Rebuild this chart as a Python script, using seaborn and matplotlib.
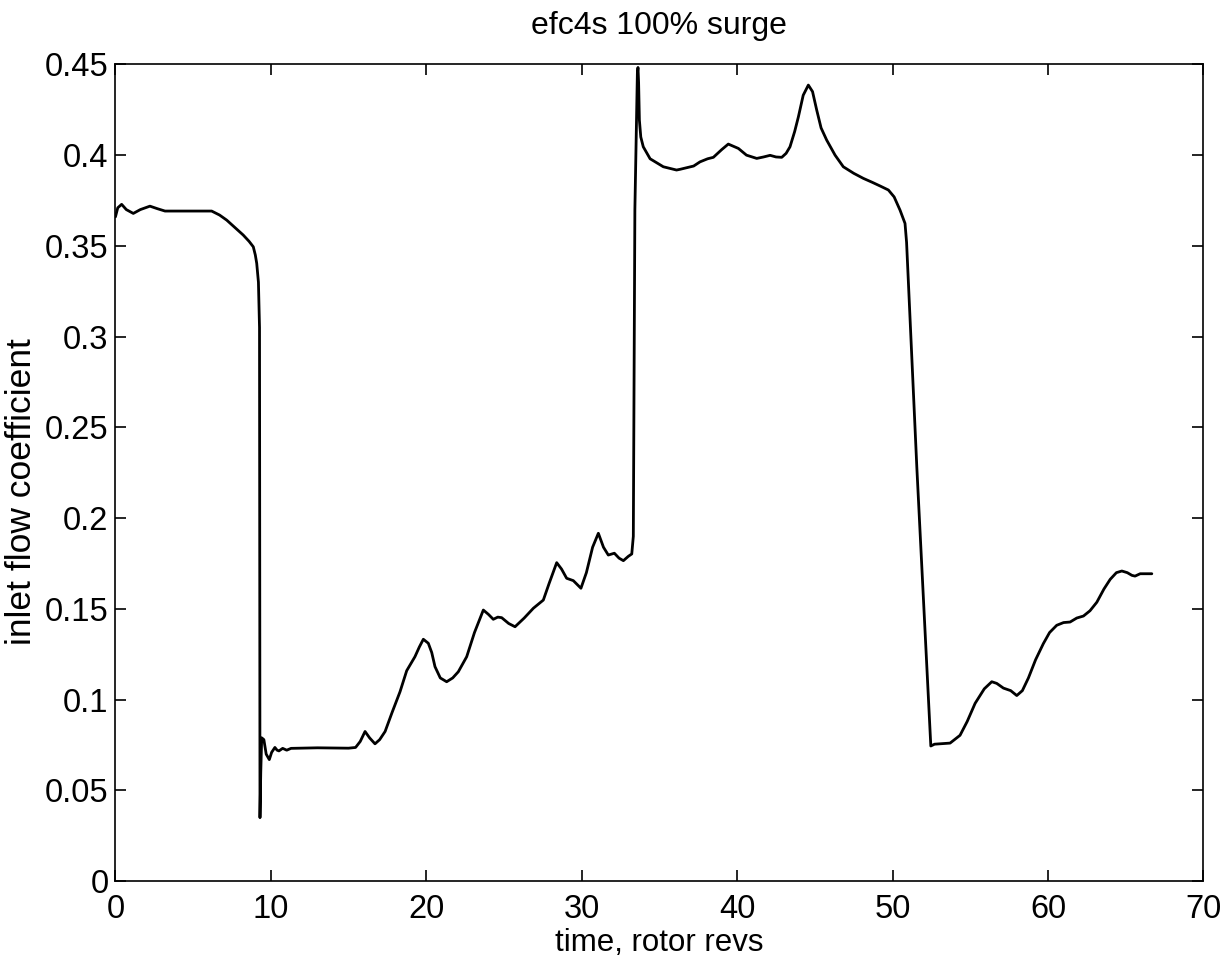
import matplotlib
matplotlib.use("Agg")
import matplotlib.pyplot as plt
import seaborn as sns
import pandas as pd

# Rotor revolutions (time axis)
time_revs = [
    0.00, 0.15, 0.40, 0.70, 1.15, 1.60, 2.22, 2.70, 3.19, 4.50, 6.19, 6.70,
    7.16, 7.70, 8.22, 8.60, 8.87, 9.00, 9.09, 9.20, 9.27, 9.30, 9.35, 9.41,
    9.55, 9.70, 9.90, 10.05, 10.26, 10.40, 10.52, 10.76, 11.02, 11.30, 13.00,
    15.00, 15.45, 15.75, 16.06, 16.35, 16.70, 17.00, 17.35, 17.80, 18.31,
    18.74, 19.27, 19.55, 19.81, 20.13, 20.35, 20.56, 20.90, 21.31, 21.70,
    22.06, 22.60, 23.10, 23.67, 24.00, 24.31, 24.60, 24.85, 25.30, 25.71,
    26.30, 26.89, 27.53, 27.90, 28.39, 28.70, 29.03, 29.46, 29.95, 30.30,
    30.70, 31.07, 31.40, 31.71, 32.10, 32.40, 32.68, 33.00, 33.22, 33.32,
    33.42, 33.58, 33.62, 33.66, 33.71, 33.80, 33.96, 34.40, 35.25, 36.10,
    36.33, 37.20, 37.61, 38.10, 38.47, 39.00, 39.43, 40.08, 40.60, 41.26,
    41.70, 42.12, 42.50, 42.87, 43.15, 43.40, 43.70, 43.94, 44.25, 44.58,
    44.85, 45.12, 45.40, 45.76, 46.30, 46.83, 47.50, 48.12, 48.70, 49.20,
    49.73, 50.10, 50.48, 50.80, 50.90, 51.56, 52.46, 52.70, 53.70, 54.34,
    54.80, 55.31, 55.90, 56.38, 56.70, 57.13, 57.60, 57.99, 58.35, 58.74,
    59.20, 59.70, 60.10, 60.56, 61.00, 61.42, 61.85, 62.28, 62.70, 63.14,
    63.60, 64.00, 64.40, 64.75, 65.10, 65.40, 65.60, 65.93, 66.68,
]

# Inlet flow coefficient
flow_coeff = [
    0.366, 0.371, 0.3729, 0.370, 0.3679, 0.370, 0.3719, 0.3705, 0.3692, 0.3692,
    0.3692, 0.367, 0.3642, 0.360, 0.3560, 0.3525, 0.3495, 0.345, 0.3404, 0.330,
    0.305, 0.035, 0.060, 0.0790, 0.078, 0.070, 0.0670, 0.071, 0.0737, 0.0722,
    0.0718, 0.0732, 0.0722, 0.0732, 0.0735, 0.0733, 0.0737, 0.0770, 0.0825,
    0.079, 0.0757, 0.0780, 0.0825, 0.093, 0.1044, 0.1160, 0.1237, 0.1290,
    0.1333, 0.1311, 0.126, 0.1182, 0.112, 0.1099, 0.112, 0.1154, 0.1237, 0.137,
    0.1494, 0.147, 0.1443, 0.1455, 0.1452, 0.142, 0.1402, 0.145, 0.1504, 0.1549,
    0.164, 0.1755, 0.172, 0.1669, 0.1656, 0.1614, 0.170, 0.184, 0.1917, 0.184,
    0.1797, 0.1807, 0.178, 0.1766, 0.179, 0.1803, 0.19, 0.37, 0.445, 0.4483,
    0.440, 0.4193, 0.410, 0.4046, 0.398, 0.3936, 0.3918, 0.3922, 0.394, 0.3963,
    0.398, 0.3988, 0.403, 0.4061, 0.4037, 0.400, 0.3982, 0.399, 0.3999, 0.399,
    0.3988, 0.401, 0.4046, 0.413, 0.4211, 0.433, 0.4386, 0.435, 0.4248, 0.415,
    0.4083, 0.400, 0.3936, 0.390, 0.3872, 0.385, 0.3830, 0.3808, 0.377, 0.3697,
    0.3624, 0.352, 0.228, 0.0745, 0.0755, 0.0761, 0.0804, 0.088, 0.0980, 0.106,
    0.1099, 0.109, 0.1064, 0.105, 0.1023, 0.105, 0.1120, 0.122, 0.1309, 0.137,
    0.1410, 0.1425, 0.1428, 0.145, 0.1461, 0.149, 0.1537, 0.161, 0.1663, 0.170,
    0.1709, 0.170, 0.1685, 0.1681, 0.1694, 0.1694,
]

x_ticks = [0, 10, 20, 30, 40, 50, 60, 70]
y_ticks = [0, 0.05, 0.1, 0.15, 0.2, 0.25, 0.3, 0.35, 0.4, 0.45]
y_tick_labels = ["0", "0.05", "0.1", "0.15", "0.2", "0.25", "0.3", "0.35", "0.4", "0.45"]

sns.set_style("ticks")
plt.rcParams["font.family"] = ["Liberation Sans", "DejaVu Sans"]
plt.rcParams["text.color"] = "black"
plt.rcParams["axes.labelcolor"] = "black"

df = pd.DataFrame({"time": time_revs, "phi": flow_coeff})

fig = plt.figure(figsize=(12.28, 9.61), dpi=100)
ax = fig.add_axes([0.094, 0.083, 0.886, 0.850])

sns.lineplot(data=df, x="time", y="phi", ax=ax, color="black",
             linewidth=2.0, sort=False, estimator=None)

ax.set_xlim(0, 70)
ax.set_ylim(0, 0.45)
ax.set_xticks(x_ticks)
ax.set_xticklabels([str(t) for t in x_ticks])
ax.set_yticks(y_ticks)
ax.set_yticklabels(y_tick_labels)

ax.tick_params(direction="in", top=True, right=True, length=8, width=1.2,
               labelsize=23.5, colors="black")
ax.tick_params(axis="x", pad=9)
ax.tick_params(axis="y", pad=5)
for s in ax.spines.values():
    s.set_visible(True)
    s.set_linewidth(1.2)
    s.set_color("black")

ax.set_xlabel("time, rotor revs", fontsize=22.5, color="black", labelpad=2)
ax.set_ylabel("inlet flow coefficient", fontsize=25.5, color="black")
ax.yaxis.set_label_coords(-0.0715, 0.4765)
ax.set_title("efc4s 100% surge", fontsize=23, color="black", pad=22)

fig.savefig("out.png", dpi=100, facecolor="white")
